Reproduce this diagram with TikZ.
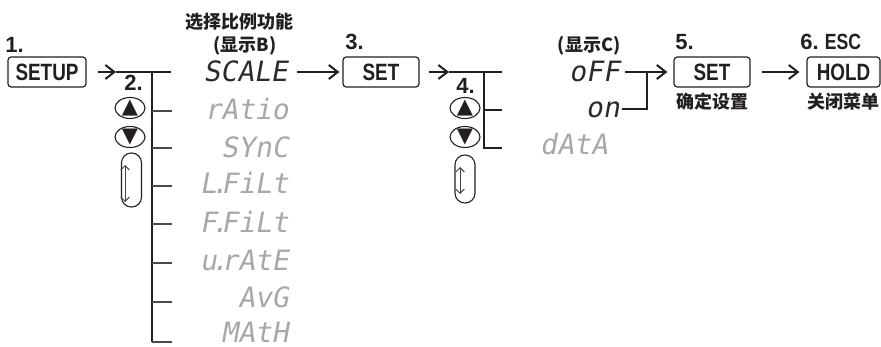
\documentclass[tikz,border=0pt]{standalone}
\usepackage{fontspec}
\setmainfont{Liberation Sans}
\newfontfamily\condf{Liberation Sans}[FakeStretch=0.8]
\newfontfamily\segf{DejaVu Sans Mono}[FakeSlant=0.18]
\newfontfamily\cjk{Noto Sans CJK SC}
\newfontfamily\symf{DejaVu Sans}
\usetikzlibrary{arrows.meta,shapes.geometric}
\definecolor{ink}{HTML}{231F20}
\definecolor{segdark}{HTML}{2B2B2B}
\definecolor{seglight}{HTML}{A8A8A8}
\definecolor{branch}{HTML}{4A4A4A}
\newcommand\sdot{\kern0.1em\makebox[0pt]{.}\kern0.06em}
\tikzset{
 keybox/.style={draw=ink, line width=0.6pt, rounded corners=1.6pt, minimum height=15pt, inner sep=0pt, font=\condf\bfseries\fontsize{11.8}{11.8}\selectfont, text=ink},
 steplabel/.style={anchor=base west, inner sep=0pt, font=\bfseries\fontsize{11}{11}\selectfont, text=ink},
 cjklabel/.style={inner sep=0pt, font=\cjk\bfseries\fontsize{9}{9}\selectfont, text=ink},
 segon/.style={anchor=base east, inner sep=0pt, text depth=0pt, font=\segf\fontsize{14}{14}\selectfont, text=segdark},
 segoff/.style={segon, text=seglight},
 bus/.style={draw=ink, line width=1pt, line join=miter},
 thinbus/.style={draw=ink, line width=0.55pt},
 branchline/.style={draw=branch, line width=0.55pt},
 arr/.style={draw=ink, line width=1pt, -{Straight Barb[length=4.5pt,width=7pt]}},
 btn/.style={ellipse, draw=ink, line width=0.55pt, minimum width=15pt, minimum height=10.5pt, inner sep=0pt},
 tri/.style={inner sep=0pt, font=\symf\fontsize{10.5}{10.5}\selectfont, text=ink},
 pill/.style={draw=ink, line width=0.55pt, rounded corners=4.9pt, minimum width=10pt, inner sep=0pt},
 scroll/.style={draw=ink!85, line width=0.45pt, {Straight Barb[length=2.2pt,width=4.4pt]}-{Straight Barb[length=2.2pt,width=4.4pt]}},
}
\begin{document}
\begin{tikzpicture}[x=0.5pt,y=-0.5pt]
\useasboundingbox (0,0) rectangle (881,347);

% ---- step 1
\node[steplabel] (n1) at (5,53) {1.};
\node[keybox, minimum width=39pt] (setup) at (47,72) {SETUP};
\coordinate (a1) at (116,72);
\coordinate (l0) at (152,72);
\coordinate (l0e) at (171,72);
\draw[arr] ([xshift=5.5pt]setup.east) -- (a1);
\draw[bus] (a1) -- (l0e);

% ---- step 2 (left bus)
\node[steplabel] (n2) at (124,91) {2.};
\node[btn] (up1) at (130,108) {};
\node[tri] (up1t) at (up1) {▲};
\node[btn] (dn1) at (130,137) {};
\node[tri] (dn1t) at (dn1) {▼};
\node[pill, minimum height=27pt] (pl1) at (131.5,180) {};
\coordinate (pl1t) at (125,165);
\coordinate (pl1b) at (125,202);
\draw[scroll] (pl1t) -- (pl1b);

\coordinate (lend) at (152,342);
\draw[thinbus] (l0) -- (lend);
\foreach \yy/\nm in {111/b1,148/b2,186/b3,224/b4,263/b5,302/b6,342/b7}{
  \coordinate (\nm s) at (152,\yy);
  \coordinate (\nm e) at (172,\yy);
  \draw[branchline] (\nm s) -- (\nm e);
}

\node[cjklabel] (tB1) at (239,22) {选择比例功能};
\node[cjklabel] (tB2) at (245,46) {(显示B)};

\node[segon]  (sScale) at (288,82)  {SCALE};
\node[segoff] (sRatio) at (289,120) {rAtio};
\node[segoff] (sSync)  at (289,157) {SYnC};
\node[segoff] (sLf)    at (289,193) {L\sdot FiLt};
\node[segoff] (sFf)    at (289,232) {F\sdot FiLt};
\node[segoff] (sUr)    at (289,270) {u\sdot rAtE};
\node[segoff] (sAvg)   at (289,307) {AvG};
\node[segoff] (sMath)  at (289,342) {MAtH};

% ---- step 3
\node[steplabel] (n3) at (345,50) {3.};
\node[keybox, minimum width=38pt] (set1) at (381,72) {SET};
\draw[arr] ([xshift=4.5pt]set1.west -| sScale.east) -- ([xshift=-1.5pt]set1.west);

% ---- step 4 (right bus)
\coordinate (a2) at (449,72);
\coordinate (r0) at (484,72);
\coordinate (r0e) at (502,72);
\coordinate (r1) at (484,110);
\coordinate (r1e) at (502,110);
\coordinate (r2) at (484,148);
\coordinate (r2e) at (502,148);
\draw[arr] ([xshift=4.5pt]set1.east) -- (a2);
\draw[bus] (a2) -- (r0e);
\draw[bus] (r0) -- (r1) -- (r1e);
\draw[thinbus] (r1) -- (r2) -- (r2e);

\node[steplabel] (n4) at (456,94) {4.};
\node[btn] (up2) at (465,108) {};
\node[tri] (up2t) at (up2) {▲};
\node[btn] (dn2) at (465,137) {};
\node[tri] (dn2t) at (dn2) {▼};
\node[pill, minimum height=24pt] (pl2) at (465,179) {};
\coordinate (pl2t) at (460,167);
\coordinate (pl2b) at (460,194);
\draw[scroll] (pl2t) -- (pl2b);

\node[cjklabel] (tC) at (589,46) {(显示C)};
\node[segon]  (sOff)  at (620,82)  {oFF};
\node[segon]  (sOn)   at (620,118) {on};
\node[segoff] (sData) at (608,155) {dAtA};

% ---- step 5
\node[steplabel] (n5) at (675,50) {5.};
\node[keybox, minimum width=38pt] (set2) at (712,72) {SET};
\node[cjklabel] (tConf) at (712,102) {确定设置};
\coordinate (c1) at (625,72);
\coordinate (c2) at (647,72);
\coordinate (c3) at (647,109);
\coordinate (c4) at (622,109);
\draw[arr] (c1) -- ([xshift=-3pt]set2.west);
\draw[bus] (c2) -- (c3) -- (c4);

% ---- step 6
\node[steplabel] (n6) at (800,50) {6.~{\condf ESC}};
\node[keybox, minimum width=36.5pt] (hold) at (843.5,72) {HOLD};
\node[cjklabel] (tClose) at (843,102) {关闭菜单};
\draw[arr] ([xshift=5.5pt]set2.east) -- ([xshift=-3.5pt]hold.west);
\end{tikzpicture}
\end{document}
